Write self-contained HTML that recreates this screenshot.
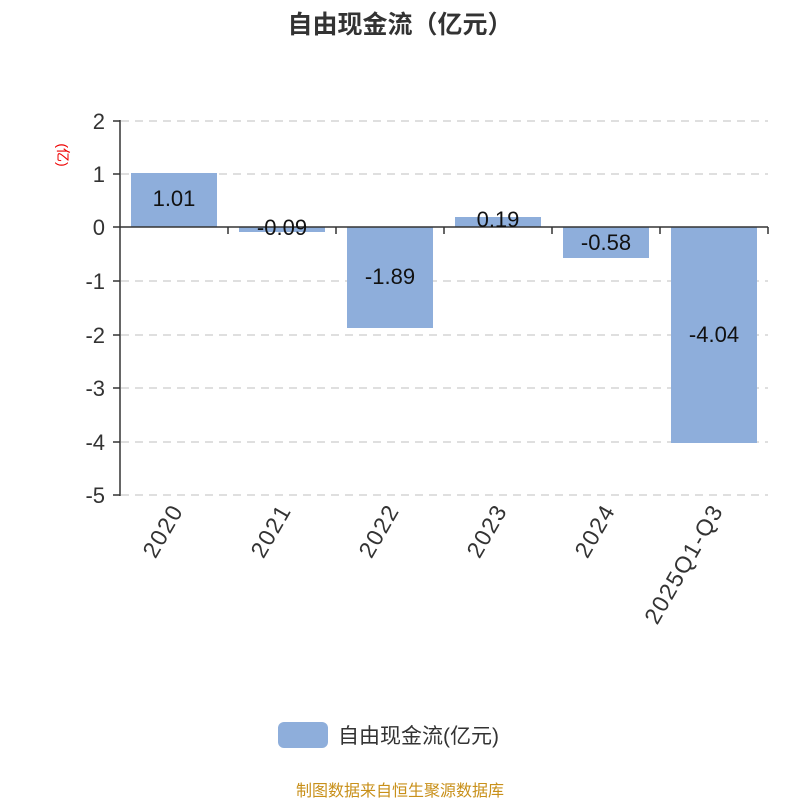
<!DOCTYPE html>
<html><head><meta charset="utf-8"><style>
html,body{margin:0;padding:0;background:#fff;}
svg{display:block;font-family:"Liberation Sans","Noto Sans CJK SC",sans-serif;}
</style></head><body>
<svg width="800" height="800" viewBox="0 0 800 800">
<text x="400" y="33" text-anchor="middle" font-size="25" font-weight="bold" fill="#333">自由现金流（亿元）</text>
<g stroke="#ccc" stroke-width="1.2" stroke-dasharray="8,6">
<line x1="121" y1="121" x2="768" y2="121"/>
<line x1="121" y1="174" x2="768" y2="174"/>
<line x1="121" y1="281" x2="768" y2="281"/>
<line x1="121" y1="335" x2="768" y2="335"/>
<line x1="121" y1="388" x2="768" y2="388"/>
<line x1="121" y1="442" x2="768" y2="442"/>
<line x1="121" y1="495" x2="768" y2="495"/>
</g>
<g fill="#8eaedb">
<rect x="131" y="173" width="86" height="54"/>
<rect x="239" y="227" width="86" height="5"/>
<rect x="347" y="227" width="86" height="101"/>
<rect x="455" y="217" width="86" height="10"/>
<rect x="563" y="227" width="86" height="31"/>
<rect x="671" y="227" width="86" height="216"/>
</g>
<g stroke="#333" stroke-width="1.5" fill="none">
<line x1="120" y1="120" x2="120" y2="496"/>
<line x1="113" y1="121" x2="120" y2="121"/>
<line x1="113" y1="174" x2="120" y2="174"/>
<line x1="113" y1="227" x2="120" y2="227"/>
<line x1="113" y1="281" x2="120" y2="281"/>
<line x1="113" y1="335" x2="120" y2="335"/>
<line x1="113" y1="388" x2="120" y2="388"/>
<line x1="113" y1="442" x2="120" y2="442"/>
<line x1="113" y1="495" x2="120" y2="495"/>
<line x1="120" y1="227" x2="768" y2="227"/>
<line x1="228" y1="227" x2="228" y2="234"/>
<line x1="336" y1="227" x2="336" y2="234"/>
<line x1="444" y1="227" x2="444" y2="234"/>
<line x1="552" y1="227" x2="552" y2="234"/>
<line x1="660" y1="227" x2="660" y2="234"/>
<line x1="768" y1="227" x2="768" y2="234"/>
</g>
<g font-size="22" fill="#333" text-anchor="end">
<text x="105" y="129">2</text>
<text x="105" y="182">1</text>
<text x="105" y="235">0</text>
<text x="105" y="289">-1</text>
<text x="105" y="343">-2</text>
<text x="105" y="396">-3</text>
<text x="105" y="450">-4</text>
<text x="105" y="503">-5</text>
</g>
<text transform="translate(58,155) rotate(90)" text-anchor="middle" font-size="14" fill="#e00">(亿)</text>
<g font-size="22" fill="#111" text-anchor="middle">
<text x="174" y="206">1.01</text>
<text x="282" y="235">-0.09</text>
<text x="390" y="284">-1.89</text>
<text x="498" y="227">0.19</text>
<text x="606" y="250">-0.58</text>
<text x="714" y="342">-4.04</text>
</g>
<g font-size="23" fill="#333" text-anchor="end" letter-spacing="1.5">
<text transform="translate(184,510) rotate(-60)">2020</text>
<text transform="translate(292,510) rotate(-60)">2021</text>
<text transform="translate(400,510) rotate(-60)">2022</text>
<text transform="translate(508,510) rotate(-60)">2023</text>
<text transform="translate(616,510) rotate(-60)">2024</text>
<text transform="translate(724,510) rotate(-60)">2025Q1-Q3</text>
</g>
<rect x="278" y="722" width="50" height="26" rx="6" fill="#8eaedb"/>
<text x="338" y="743" font-size="21" fill="#333">自由现金流(亿元)</text>
<text x="400" y="796" text-anchor="middle" font-size="16" fill="#c8901a">制图数据来自恒生聚源数据库</text>
</svg>
</body></html>
